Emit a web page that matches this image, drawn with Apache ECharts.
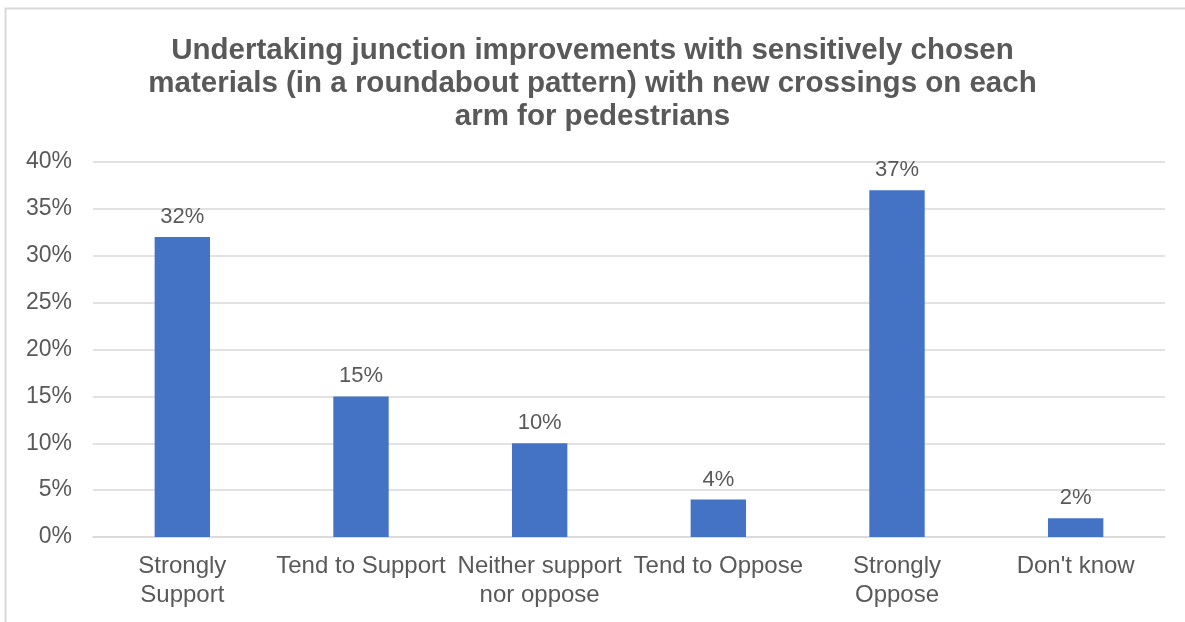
<!DOCTYPE html>
<html>
<head>
<meta charset="utf-8">
<script src="https://cdn.jsdelivr.net/npm/echarts@6/dist/echarts.min.js"></script>
<style>
  html, body { margin: 0; padding: 0; background: #ffffff; }
  #chart { width: 1185px; height: 622px; }
</style>
</head>
<body>
<div id="chart"></div>
<script>
// Survey responses (percent of respondents)
const categories = [
  'Strongly\nSupport',
  'Tend to Support',
  'Neither support\nnor oppose',
  'Tend to Oppose',
  'Strongly\nOppose',
  "Don't know"
];
const shares = [32, 15, 10, 4, 37, 2];
const yTicks = { min: 0, max: 40, interval: 5 };
const titleText = 'Undertaking junction improvements with sensitively chosen\nmaterials (in a roundabout pattern) with new crossings on each\narm for pedestrians';

const chart = echarts.init(document.getElementById('chart'), null, { renderer: 'canvas' });
const textColor = '#595959';
const font = 'Liberation Sans, Arial, sans-serif';

chart.setOption({
  animation: false,
  backgroundColor: '#ffffff',
  title: {
    text: titleText,
    left: 'center',
    top: 29,
    textStyle: {
      fontFamily: font,
      fontSize: 29.5,
      fontWeight: 'bold',
      color: textColor,
      lineHeight: 33
    }
  },
  graphic: [{
    type: 'rect',
    shape: { x: 5.5, y: 8.5, width: 1300, height: 700 },
    style: { fill: 'none', stroke: '#d9d9d9', lineWidth: 2 },
    silent: true
  }],
  grid: { left: 93, right: 20, top: 162, bottom: 85, containLabel: false },
  xAxis: {
    type: 'category',
    data: categories,
    axisLine: { show: true, lineStyle: { color: '#d9d9d9', width: 1.5 } },
    axisTick: { show: false },
    axisLabel: {
      color: textColor,
      fontFamily: font,
      fontSize: 24,
      lineHeight: 29,
      margin: 15,
      interval: 0
    }
  },
  yAxis: {
    type: 'value',
    min: yTicks.min,
    max: yTicks.max,
    interval: yTicks.interval,
    axisLine: { show: false },
    axisTick: { show: false },
    splitLine: { lineStyle: { color: '#d9d9d9', width: 1.5 } },
    axisLabel: {
      color: textColor,
      fontFamily: font,
      fontSize: 23,
      margin: 21,
      formatter: v => v + '%'
    }
  },
  series: [{
    type: 'bar',
    data: shares,
    barWidth: '31%',
    itemStyle: { color: '#4472C4' },
    label: {
      show: true,
      position: 'top',
      distance: 9,
      color: textColor,
      fontFamily: font,
      fontSize: 22,
      formatter: p => p.value + '%'
    }
  }]
});
</script>
</body>
</html>
